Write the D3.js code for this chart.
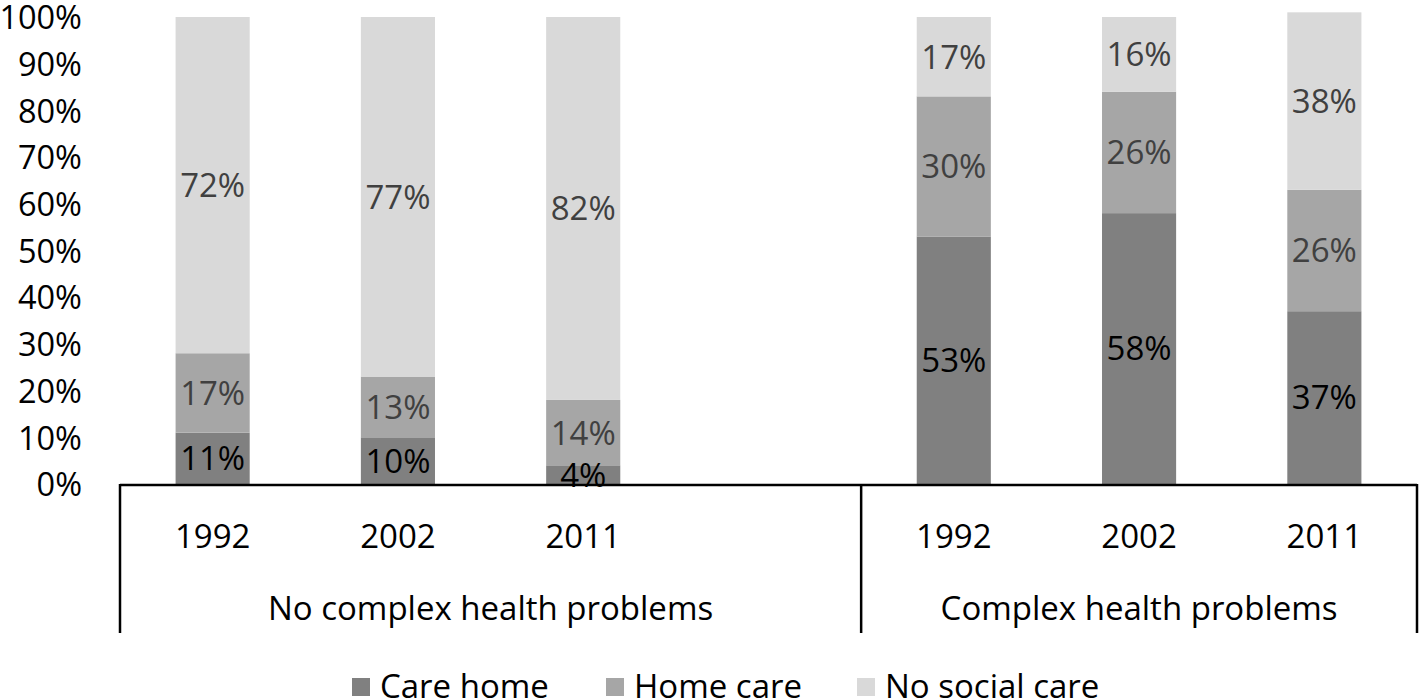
<!DOCTYPE html>
<html><head><meta charset="utf-8">
<script src="https://cdn.jsdelivr.net/npm/d3@7"></script>
<style>body{margin:0;background:#fff;} svg{display:block;}</style>
</head><body>
<svg id="c" width="1424" height="700"></svg>
<script>
const groups = ["No complex health problems", "Complex health problems"];
const years = ["1992", "2002", "2011"];
const series = ["Care home", "Home care", "No social care"];
const careHome = [11, 10, 4, 53, 58, 37];
const homeCare = [17, 13, 14, 30, 26, 26];
const noSocialCare = [72, 77, 82, 17, 16, 38];
const yTicks = [0, 10, 20, 30, 40, 50, 60, 70, 80, 90, 100];
const colors = ["#808080", "#a6a6a6", "#d9d9d9"];
const labelColors = ["#000000", "#404040", "#404040"];

(function () {
const FONT = "Open Sans, sans-serif";
const FS = 33;
const svg = d3.select("#c");
const pLeft = 120, pRight = 1417, pTop = 17, pBottom = 484;

const slots = ["0-0", "0-1", "0-2", "gap", "1-0", "1-1", "1-2"];
const x = d3.scaleBand().domain(slots).range([pLeft, pRight]).paddingInner(0.6).paddingOuter(0.3);
const y = d3.scaleLinear().domain([0, 100]).range([pBottom, pTop]);

const rows = [];
for (let g = 0; g < 2; g++) for (let i = 0; i < 3; i++) {
  const k = g * 3 + i;
  rows.push({ key: g + "-" + i, g, year: years[i], "Care home": careHome[k], "Home care": homeCare[k], "No social care": noSocialCare[k] });
}
const stacked = d3.stack().keys(series)(rows);

stacked.forEach((s, si) => {
  svg.append("g").selectAll("rect").data(s).join("rect")
    .attr("x", d => x(d.data.key))
    .attr("width", x.bandwidth())
    .attr("y", d => y(d[1]))
    .attr("height", d => y(d[0]) - y(d[1]))
    .attr("fill", colors[si]);
});
stacked.forEach((s, si) => {
  svg.append("g").selectAll("text").data(s).join("text")
    .attr("x", d => x(d.data.key) + x.bandwidth() / 2)
    .attr("y", d => (y(d[0]) + y(d[1])) / 2)
    .attr("dy", "0.36em")
    .attr("text-anchor", "middle")
    .attr("font-family", FONT).attr("font-size", FS)
    .attr("fill", labelColors[si])
    .text(d => (d[1] - d[0]) + "%");
});

const yAxis = d3.axisLeft(y).tickValues(yTicks).tickFormat(d => d + "%").tickSize(0).tickPadding(0);
const ya = svg.append("g").attr("transform", "translate(82,0)").call(yAxis);
ya.select(".domain").remove();
ya.selectAll("text").attr("font-family", FONT).attr("font-size", 32.5).attr("fill", "#000").attr("dy", "0.36em");

const step = x.step();
const boundary = x("1-0") - step * x.paddingOuter();
const lineBottom = 633;
const ax = svg.append("g").attr("stroke", "#000").attr("stroke-width", 2.5);
ax.append("line").attr("x1", pLeft).attr("x2", pRight).attr("y1", pBottom + 1).attr("y2", pBottom + 1);
[pLeft, boundary, pRight].forEach(v => ax.append("line").attr("x1", v).attr("x2", v).attr("y1", pBottom).attr("y2", lineBottom));

svg.append("g").selectAll("text").data(rows).join("text")
  .attr("x", d => x(d.key) + x.bandwidth() / 2)
  .attr("y", 536).attr("dy", "0.36em")
  .attr("text-anchor", "middle")
  .attr("font-family", FONT).attr("font-size", FS).attr("fill", "#000")
  .text(d => d.year);

const groupSpans = [[pLeft, boundary], [boundary, pRight]];
svg.append("g").selectAll("text").data(groups).join("text")
  .attr("x", (d, i) => (groupSpans[i][0] + groupSpans[i][1]) / 2)
  .attr("y", 608).attr("dy", "0.36em")
  .attr("text-anchor", "middle")
  .attr("font-family", FONT).attr("font-size", FS).attr("fill", "#000")
  .text(d => d);

const legendX = [352, 606, 857];
const lg = svg.append("g");
series.forEach((s, i) => {
  lg.append("rect").attr("x", legendX[i]).attr("y", 678).attr("width", 18).attr("height", 18).attr("fill", colors[i]);
  lg.append("text").attr("x", legendX[i] + 28).attr("y", 686).attr("dy", "0.36em")
    .attr("font-family", FONT).attr("font-size", FS).attr("fill", "#000").text(s);
});
})();
</script>
</body></html>
